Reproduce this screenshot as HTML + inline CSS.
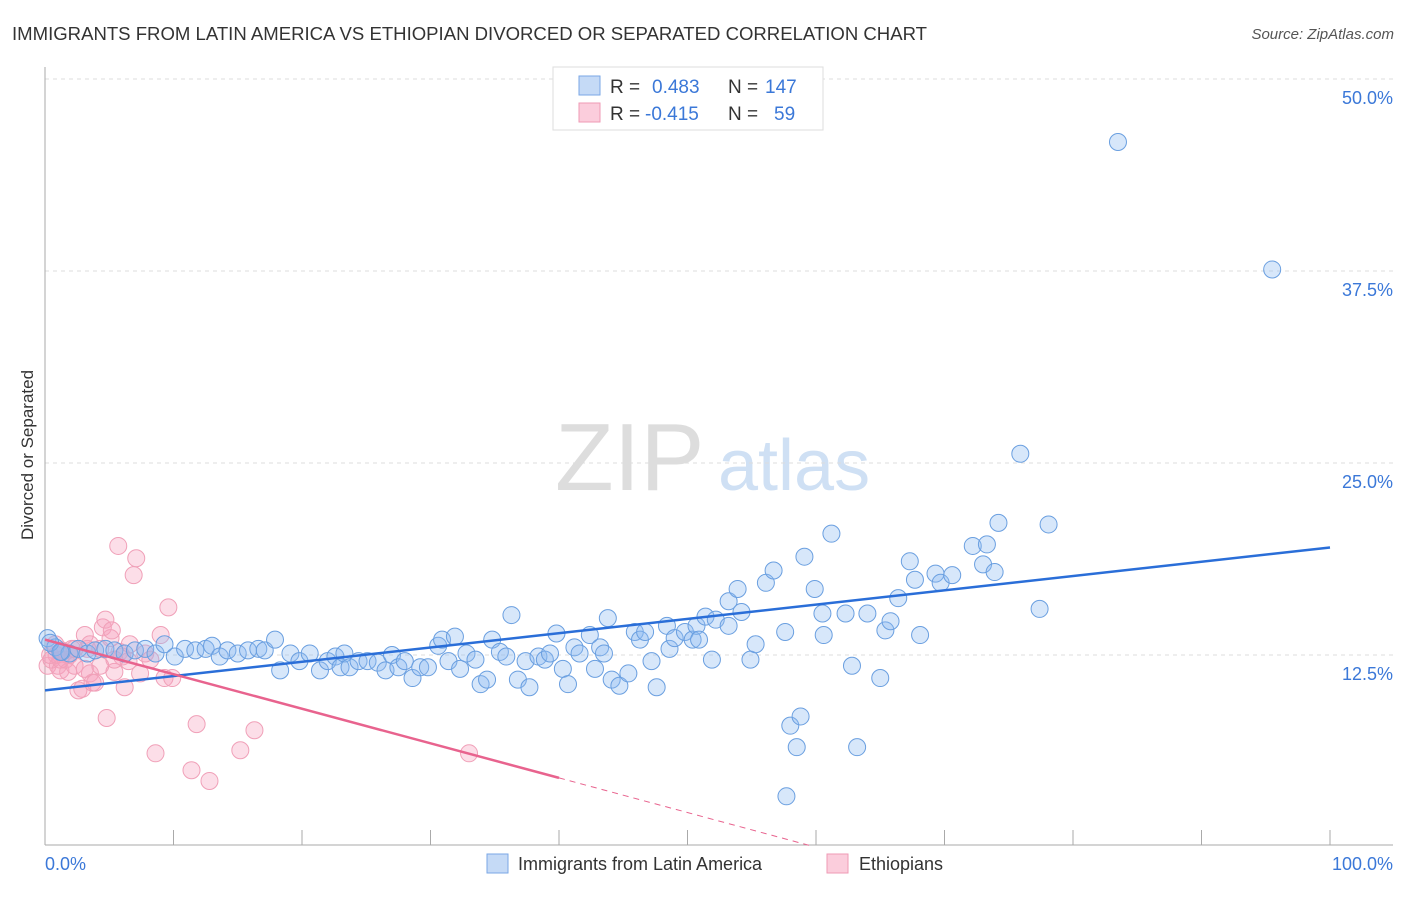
<!DOCTYPE html>
<html><head><meta charset="utf-8"><style>
body{margin:0;background:#fff;font-family:"Liberation Sans",sans-serif;}
svg text{font-family:"Liberation Sans",sans-serif;}
</style></head><body>
<svg width="1406" height="892" viewBox="0 0 1406 892">
<text x="12" y="40" font-size="18" fill="#333" textLength="915" lengthAdjust="spacingAndGlyphs">IMMIGRANTS FROM LATIN AMERICA VS ETHIOPIAN DIVORCED OR SEPARATED CORRELATION CHART</text>
<text x="1394" y="39" font-size="15" fill="#555" text-anchor="end" font-style="italic">Source: ZipAtlas.com</text>
<text x="555" y="490" font-size="96" fill="#ddd" font-family="Liberation Serif">ZIP</text>
<text x="718" y="490" font-size="72" fill="#cfe0f4">atlas</text>
<g id="grid"></g>
<g id="axes"></g>
<g id="marks"></g>
<text transform="translate(33,455) rotate(-90)" font-size="17" fill="#333" text-anchor="middle">Divorced or Separated</text>
<text x="45" y="870" font-size="18" fill="#3b78d8">0.0%</text>
<text x="1393" y="870" font-size="18" fill="#3b78d8" text-anchor="end">100.0%</text>
<g>
<rect x="553" y="67" width="270" height="63" fill="#fff" stroke="#ddd"/>
<rect x="579" y="76" width="21" height="19" fill="#c5daf6" stroke="#7aa7e6"/>
<rect x="579" y="103" width="21" height="19" fill="#fbcddc" stroke="#ef9ab5"/>
<text x="610" y="93" font-size="19" fill="#333">R =</text><text x="652" y="93" font-size="19" fill="#3b78d8">0.483</text>
<text x="728" y="93" font-size="19" fill="#333">N =</text><text x="765" y="93" font-size="19" fill="#3b78d8">147</text>
<text x="610" y="120" font-size="19" fill="#333">R =</text><text x="645" y="120" font-size="19" fill="#3b78d8">-0.415</text>
<text x="728" y="120" font-size="19" fill="#333">N =</text><text x="774" y="120" font-size="19" fill="#3b78d8">59</text>
</g>
<g>
<rect x="487" y="854" width="21" height="19" fill="#c5daf6" stroke="#7aa7e6"/>
<text x="518" y="870" font-size="18" fill="#333">Immigrants from Latin America</text>
<rect x="827" y="854" width="21" height="19" fill="#fbcddc" stroke="#ef9ab5"/>
<text x="859" y="870" font-size="18" fill="#333">Ethiopians</text>
</g>
</svg>
<script>
const yTicks=[12.5,25,37.5,50];
const yTickLabels=["12.5%","25.0%","37.5%","50.0%"];
const blueX=[0.2,0.8,1.3,1.9,2.6,3.3,3.9,4.7,5.4,6.2,7.0,7.8,8.6,9.3,10.1,10.9,11.7,12.5,13.0,13.6,14.2,15.0,15.8,16.6,17.1,17.9,18.3,19.1,19.8,20.6,21.4,22.0,22.6,23.0,23.3,23.7,24.4,25.1,25.9,26.5,27.0,27.5,28.0,28.6,29.2,29.8,30.6,30.9,31.4,31.9,32.3,32.8,33.5,33.9,34.4,34.8,35.4,35.9,36.3,36.8,37.4,37.7,38.4,38.9,39.3,39.8,40.3,40.7,41.2,41.6,42.4,42.8,43.2,43.5,43.8,44.1,44.7,45.4,45.9,46.3,46.7,47.2,47.6,48.4,48.6,49.0,49.8,50.4,50.7,50.9,51.4,51.9,52.2,53.2,53.2,53.9,54.2,54.9,55.3,56.1,56.7,57.6,58.0,58.5,58.8,57.7,59.1,59.9,60.5,60.6,61.2,62.3,62.8,63.2,64.0,65.0,65.4,65.8,66.4,67.3,67.7,68.1,69.3,69.7,70.6,72.2,73.0,73.3,73.9,74.2,75.9,77.4,78.1,83.5,95.5,0.4,1.2];
const blueY=[13.6,13.0,12.7,12.6,12.9,12.6,12.8,12.9,12.8,12.6,12.8,12.9,12.6,13.2,12.4,12.9,12.8,12.9,13.1,12.4,12.8,12.6,12.8,12.9,12.8,13.5,11.5,12.6,12.1,12.6,11.5,12.1,12.4,11.7,12.6,11.7,12.1,12.1,12.0,11.5,12.5,11.7,12.1,11.0,11.7,11.7,13.1,13.5,12.1,13.7,11.6,12.6,12.2,10.6,10.9,13.5,12.7,12.4,15.1,10.9,12.1,10.4,12.4,12.2,12.6,13.9,11.6,10.6,13.0,12.6,13.8,11.6,13.0,12.6,14.9,10.9,10.5,11.3,14.0,13.5,14.0,12.1,10.4,14.4,12.9,13.6,14.0,13.5,14.4,13.5,15.0,12.2,14.8,16.0,14.4,16.8,15.3,12.2,13.2,17.2,18.0,14.0,7.9,6.5,8.5,3.3,18.9,16.8,15.2,13.8,20.4,15.2,11.8,6.5,15.2,11.0,14.1,14.7,16.2,18.6,17.4,13.8,17.8,17.2,17.7,19.6,18.4,19.7,17.9,21.1,25.6,15.5,21.0,45.9,37.6,13.3,12.7];
const pinkX=[0.2,0.5,0.9,1.0,1.2,1.3,1.6,1.8,1.9,2.1,2.3,2.6,2.9,3.1,3.3,3.5,3.7,3.9,4.3,4.5,4.7,4.8,5.1,5.2,5.4,5.7,5.8,6.0,6.2,6.5,6.6,6.9,7.1,7.4,7.8,8.2,8.6,9.0,9.3,9.6,9.9,11.4,11.8,12.8,15.2,16.3,33.0,0.8,2.3,3.5,5.4,1.2,0.4,4.3,3.1];
const pinkY=[11.8,12.2,12.5,11.8,11.5,12.8,12.2,11.4,12.5,12.9,11.8,10.2,10.3,13.8,12.9,11.3,10.7,10.7,12.9,14.3,14.8,8.4,13.6,14.1,11.4,19.6,12.7,12.4,10.4,12.1,13.2,17.7,18.8,11.3,12.6,12.2,6.1,13.8,11.0,15.6,11.0,5.0,8.0,4.3,6.3,7.6,6.1,13.2,12.9,13.2,12.2,12.2,12.5,11.8,11.6];
const blueTrend=[[0,10.2],[100,19.5]];
const pinkTrendSolid=[[0,13.5],[40,4.5]];
const pinkTrendDash=[[40,4.5],[59.5,0.1]];
const X0=45,X1=1330,Y0=847,PXY=15.36;
const xs=v=>X0+(X1-X0)*v/100;
const ys=v=>Y0-v*PXY;
const NS='http://www.w3.org/2000/svg';
function mk(tag,attrs,parent){const e=document.createElementNS(NS,tag);for(const k in attrs)e.setAttribute(k,attrs[k]);parent.appendChild(e);return e;}
const grid=document.getElementById('grid'),axes=document.getElementById('axes'),marks=document.getElementById('marks');
yTicks.forEach((t,i)=>{
 const y=ys(t);
 const l=mk('line',{x1:45,x2:1393,y1:y,y2:y,stroke:'#ddd','stroke-dasharray':'4,4'},grid);
 
 
 const tx=mk('text',{x:1393,y:y+25,'font-size':18,fill:'#3b78d8','text-anchor':'end'},grid);
 tx.textContent=yTickLabels[i];
 
 
});
const ya=mk('line',{x1:45,x2:45,y1:67,y2:845,stroke:'#aaa'},axes);


const xa=mk('line',{x1:45,x2:1393,y1:845,y2:845,stroke:'#aaa'},axes);


for(let i=0;i<=10;i++){const x=xs(i*10);
 const t=mk('line',{x1:x,x2:x,y1:830,y2:845,stroke:'#aaa'},axes);
 
 }
pinkX.forEach((v,i)=>{const c=mk('circle',{cx:xs(v),cy:ys(pinkY[i]),r:8.5,fill:'rgba(246,160,190,0.35)',stroke:'#f0a0b8','stroke-width':1},marks);
 
 });
blueX.forEach((v,i)=>{const c=mk('circle',{cx:xs(v),cy:ys(blueY[i]),r:8.5,fill:'rgba(140,185,240,0.35)',stroke:'#6a9fe0','stroke-width':1},marks);
 
 });
function line(p,attrs,name){const l=mk('line',Object.assign({x1:xs(p[0][0]),y1:ys(p[0][1]),x2:xs(p[1][0]),y2:ys(p[1][1])},attrs),marks);
 
 }
line(blueTrend,{stroke:'#2a6ed8','stroke-width':2.5},'latin-america-trendline');
line(pinkTrendSolid,{stroke:'#e8638e','stroke-width':2.5},'ethiopian-trendline');
line(pinkTrendDash,{stroke:'#e8638e','stroke-width':1,'stroke-dasharray':'6,5'},'ethiopian-trendline-extension');
</script>
</body></html>
